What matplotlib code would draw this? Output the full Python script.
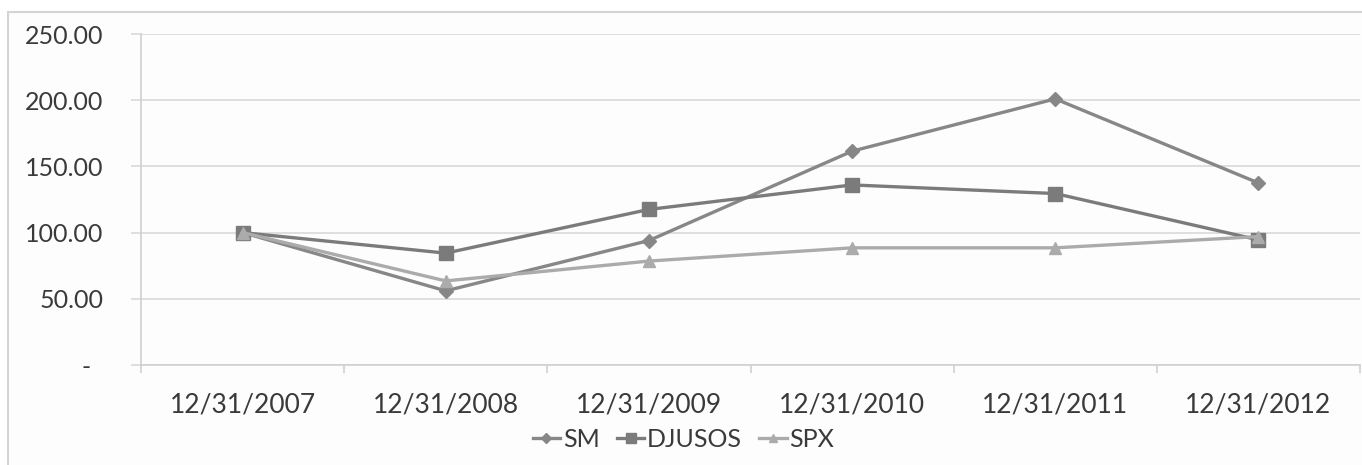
import matplotlib
matplotlib.use("Agg")
from matplotlib import pyplot as plt
from matplotlib.patches import Rectangle
from matplotlib.transforms import ScaledTranslation

# values
dates = ["12/31/2007", "12/31/2008", "12/31/2009", "12/31/2010", "12/31/2011", "12/31/2012"]
sm = [100.0, 56.0, 94.0, 161.5, 201.0, 137.5]
djusos = [100.0, 84.5, 117.5, 136.0, 129.5, 94.5]
spx = [100.0, 63.5, 78.5, 88.5, 88.5, 97.0]
y_ticks = [0, 50, 100, 150, 200, 250]

plt.rcParams["font.family"] = ["Lato", "DejaVu Sans"]

fig = plt.figure(figsize=(13.62, 4.65), dpi=100)
fig.patch.set_facecolor("white")
fig.patches.append(Rectangle((8 / 1362, -0.1), 1.2, (465 - 12) / 465 + 0.1,
                             transform=fig.transFigure, facecolor="#fdfdfd",
                             edgecolor="#d4d4d4", linewidth=1.5, zorder=-5))

ax = fig.add_axes([141 / 1362, 1 - 365 / 465, (1360 - 141) / 1362, (365 - 34) / 465])
ax.set_facecolor("none")

x = list(range(len(dates)))
ax.plot(x, sm, color="#878787", lw=2.4, marker="D", ms=7, label="SM", zorder=3)
ax.plot(x, djusos, color="#7b7b7b", lw=2.4, marker="s", ms=10, label="DJUSOS", zorder=3)
ax.plot(x, spx, color="#ababab", lw=2.4, marker="^", ms=9, label="SPX", zorder=3)

ax.set_xlim(-0.5, len(dates) - 0.5)
ax.set_ylim(0, 250)
ax.set_yticks(y_ticks)
ax.set_yticklabels(["-" if v == 0 else f"{v:.2f}" for v in y_ticks])
ax.yaxis.grid(True, color="#d9d9d9", lw=1.2)
ax.set_axisbelow(True)

# category boundaries get the tick marks, the names sit between them
ax.set_xticks([i - 0.5 for i in range(len(dates) + 1)])
ax.set_xticklabels([])
ax.set_xticks(x, minor=True)
ax.set_xticklabels(dates, minor=True)
ax.tick_params(axis="x", which="major", length=6, color="#d0d0d0", width=1.2)
ax.tick_params(axis="x", which="minor", length=0, pad=20, labelsize=19, labelcolor="#3a3a3a")
ax.tick_params(axis="y", length=7, color="#d9d9d9", width=1.2, pad=20,
               labelsize=18, labelcolor="#3a3a3a")

# the "-" for zero sits a little left, like the accounting format
zero_label = ax.get_yticklabels()[0]
zero_label.set_transform(zero_label.get_transform()
                         + ScaledTranslation(-0.13, 0, fig.dpi_scale_trans))

for side in ["top", "right"]:
    ax.spines[side].set_visible(False)
ax.spines["left"].set_color("#d0d0d0")
ax.spines["bottom"].set_color("#d0d0d0")
ax.spines["left"].set_linewidth(1.2)
ax.spines["bottom"].set_linewidth(1.2)

ax.legend(loc="center", bbox_to_anchor=(0.445, -0.225), ncol=3, frameon=False,
          fontsize=18, handlelength=1.1, handletextpad=0.1, columnspacing=0.7,
          markerscale=0.7, labelcolor="#3a3a3a", borderpad=0)

fig.savefig("out.png", dpi=100)
